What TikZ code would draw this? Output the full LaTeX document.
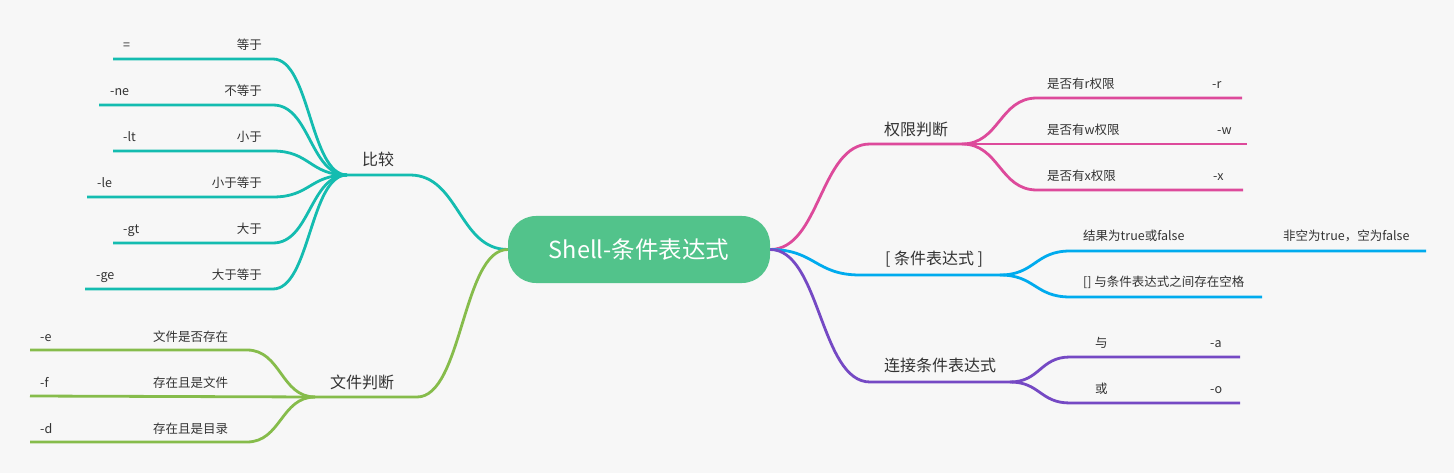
\documentclass[tikz,border=0pt]{standalone}
\usepackage{fontspec}
\setmainfont{Noto Sans CJK SC}
\usetikzlibrary{calc}
\definecolor{bgc}{HTML}{F7F7F7}
\definecolor{tealc}{HTML}{14BCB0}
\definecolor{greenc}{HTML}{86BC4B}
\definecolor{pinkc}{HTML}{DD4A9B}
\definecolor{bluec}{HTML}{00ABEE}
\definecolor{purplec}{HTML}{7549C4}
\definecolor{rootc}{HTML}{52C38B}
\definecolor{txtc}{HTML}{333333}
\tikzset{
  hc/.style={to path={let \p1=(\tikztostart), \p2=(\tikztotarget) in
     .. controls ({(\x1+\x2)/2},\y1) and ({(\x1+\x2)/2},\y2) .. (\tikztotarget)}},
  conn/.style={line width=2.8pt, line join=round},
  leaf/.style={font=\fontsize{12.5}{14}\selectfont, text=txtc, inner sep=0pt, anchor=base west},
  leafr/.style={leaf, anchor=base east},
  branch/.style={font=\fontsize{16}{18}\selectfont, text=txtc, inner sep=0pt, anchor=base},
  rootbox/.style={fill=rootc, rounded corners=28pt, minimum width=262pt, minimum height=67pt,
     inner sep=0pt, text=white, font=\fontsize{23.5}{27}\selectfont}
}
\begin{document}
\begin{tikzpicture}[x=1pt,y=-1pt]
\fill[bgc] (0,0) rectangle (1454,473);
\useasboundingbox (0,0) rectangle (1454,473);

% coordinates
\coordinate (cmpA) at (410,175); \coordinate (cmpJ) at (347,175);
\coordinate (t1e) at (273,59);  \coordinate (t1s) at (113,59);
\coordinate (t2e) at (273,105); \coordinate (t2s) at (99,105);
\coordinate (t3e) at (273,151); \coordinate (t3s) at (113,151);
\coordinate (t4e) at (273,197); \coordinate (t4s) at (87,197);
\coordinate (t5e) at (273,243); \coordinate (t5s) at (113,243);
\coordinate (t6e) at (273,289); \coordinate (t6s) at (85,289);

\coordinate (fA) at (417,397); \coordinate (fJ) at (315,397);
\coordinate (g1e) at (247,350); \coordinate (g1s) at (30,350);
\coordinate (g2s) at (30,396);
\coordinate (g3e) at (247,442); \coordinate (g3s) at (30,442);

\coordinate (pA) at (870,144); \coordinate (pJ) at (962,144);
\coordinate (p1e) at (1037,98);  \coordinate (p1s) at (1242,98);
\coordinate (p2s) at (1247,144);
\coordinate (p3e) at (1037,190); \coordinate (p3s) at (1243,190);

\coordinate (bA) at (860,275); \coordinate (bJ) at (1000,275);
\coordinate (b1e) at (1070,251); \coordinate (b1s) at (1426,251);
\coordinate (b2e) at (1070,297); \coordinate (b2s) at (1262,297);

\coordinate (uA) at (870,382); \coordinate (uJ) at (1010,382);
\coordinate (u1e) at (1070,357); \coordinate (u1s) at (1240,357);
\coordinate (u2e) at (1070,403); \coordinate (u2s) at (1240,403);

% root
\node[rootbox] (root) at (639,249.5) {Shell-条件表达式};

% teal branch
\draw[conn, tealc] (root.west) to[hc] (cmpA) -- (cmpJ);
\foreach \i in {1,...,6} {\draw[conn, tealc] (cmpJ) to[hc] (t\i e) -- (t\i s);}
% green branch
\draw[conn, greenc] (root.west) to[hc] (fA) -- (fJ);
\draw[conn, greenc] (fJ) to[hc] (g1e) -- (g1s);
\draw[conn, greenc] (fJ) -- (g2s);
\draw[conn, greenc] (fJ) to[hc] (g3e) -- (g3s);
% pink branch
\draw[conn, pinkc] (root.east) to[hc] (pA) -- (pJ);
\draw[conn, pinkc] (pJ) to[hc] (p1e) -- (p1s);
\draw[conn, pinkc] (pJ) -- (p2s);
\draw[conn, pinkc] (pJ) to[hc] (p3e) -- (p3s);
% blue branch
\draw[conn, bluec] (root.east) to[hc] (bA) -- (bJ);
\draw[conn, bluec] (bJ) to[hc] (b1e) -- (b1s);
\draw[conn, bluec] (bJ) to[hc] (b2e) -- (b2s);
% purple branch
\draw[conn, purplec] (root.east) to[hc] (uA) -- (uJ);
\draw[conn, purplec] (uJ) to[hc] (u1e) -- (u1s);
\draw[conn, purplec] (uJ) to[hc] (u2e) -- (u2s);

% branch labels
\node[branch] (cmp) at (378,166) {比较};
\node[branch] (file) at (362,388) {文件判断};
\node[branch] (perm) at (916,136) {权限判断};
\node[branch] (cond) at (934,265) {[ 条件表达式 ]};
\node[branch] (conj) at (940,371) {连接条件表达式};

% teal leaves
\node[leaf] (l1a) at (123,49.5) {=};
\node[leafr] (l1b) at (262,49.5) {等于};
\node[leaf] (l2a) at (110,95.5) {-ne};
\node[leafr] (l2b) at (262,95.5) {不等于};
\node[leaf] (l3a) at (123,141.5) {-lt};
\node[leafr] (l3b) at (262,141.5) {小于};
\node[leaf] (l4a) at (97,187.5) {-le};
\node[leafr] (l4b) at (262,187.5) {小于等于};
\node[leaf] (l5a) at (123,233.5) {-gt};
\node[leafr] (l5b) at (262,233.5) {大于};
\node[leaf] (l6a) at (96,279.5) {-ge};
\node[leafr] (l6b) at (262,279.5) {大于等于};

% green leaves
\node[leaf] (f1a) at (40,341) {-e};
\node[leaf] (f1b) at (153,341) {文件是否存在};
\node[leaf] (f2a) at (40,387) {-f};
\node[leaf] (f2b) at (153,387) {存在且是文件};
\node[leaf] (f3a) at (40,433) {-d};
\node[leaf] (f3b) at (153,433) {存在且是目录};

% pink leaves
\node[leaf] (q1a) at (1047,88.75) {是否有r权限};
\node[leaf] (q1b) at (1212,88.75) {-r};
\node[leaf] (q2a) at (1047,134.75) {是否有w权限};
\node[leaf] (q2b) at (1217,134.75) {-w};
\node[leaf] (q3a) at (1047,180.75) {是否有x权限};
\node[leaf] (q3b) at (1213,180.75) {-x};

% blue leaves
\node[leaf] (c1a) at (1083,240.75) {结果为true或false};
\node[leaf] (c1b) at (1283,240.75) {非空为true，空为false};
\node[leaf] (c2a) at (1083,286.75) {[] 与条件表达式之间存在空格};

% purple leaves
\node[leaf] (j1a) at (1095,347.75) {与};
\node[leaf] (j1b) at (1210,347.75) {-a};
\node[leaf] (j2a) at (1095,393.75) {或};
\node[leaf] (j2b) at (1210,393.75) {-o};
\end{tikzpicture}
\end{document}
